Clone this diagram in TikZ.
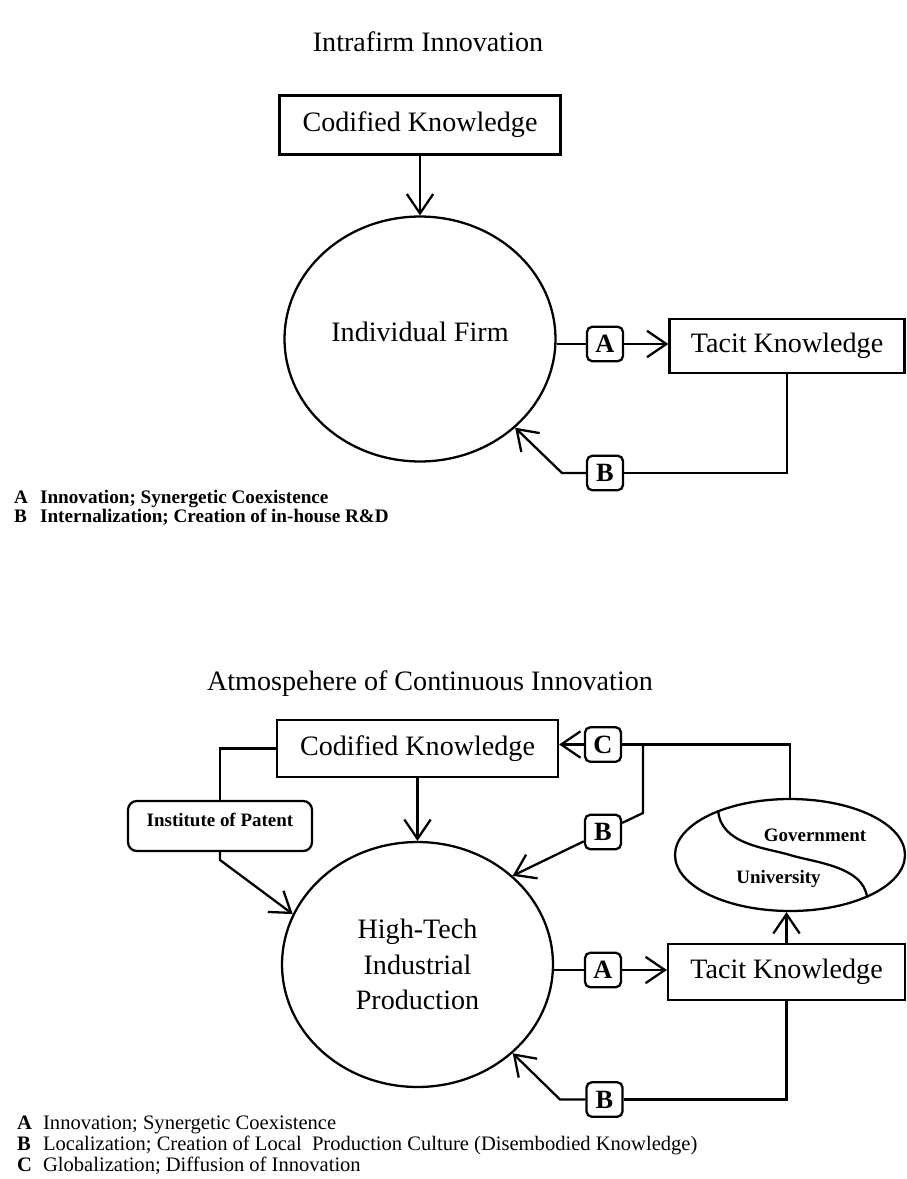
\documentclass[tikz,border=0pt]{standalone}
\usepackage{fontspec}
\setmainfont{Liberation Serif}
\usetikzlibrary{arrows.meta, shapes.geometric, positioning}

\begin{document}
\begin{tikzpicture}[
      x=0.02cm, y=-0.02cm, line width=1.3pt,
      >={Straight Barb[length=11pt,width=15pt,line width=1.3pt]},
      every node/.style={inner sep=0pt},
      heading/.style={font=\fontsize{16}{20}\selectfont},
      knowbox/.style={draw, rectangle, minimum height=1.18cm, font=\fontsize{16}{20}\selectfont},
      sphere/.style={draw, ellipse, minimum width=5.42cm, minimum height=4.9cm, align=center, font=\fontsize{16}{20}\selectfont},
      tag/.style={draw, rounded corners=3pt, minimum width=0.72cm, minimum height=0.69cm, font=\fontsize{15}{15}\bfseries\selectfont},
      minor/.style={font=\fontsize{10.8}{12}\bfseries\selectfont},
      legend/.style={anchor=base west, font=\fontsize{11.7}{13}\selectfont}
      ]
      \useasboundingbox (0,0) rectangle (906,1179);

      \node[heading, anchor=base]                      (title_1) at (428,52)  {Intrafirm Innovation};
      \node[knowbox, minimum width=5.62cm]             (ck_1)    at (420,125) {Codified Knowledge};
      \node[sphere, text height=0.4cm, text depth=0.32cm] (firm) at (420,339) {Individual Firm};
      \node[tag]                                       (a_1)     at (605,344) {A};
      \node[knowbox, minimum width=4.7cm, minimum height=1.08cm] (tk_1) at (787,346) {Tacit Knowledge};
      \node[tag]                                       (b_1)     at (605,473) {B};
      \coordinate (bend_1) at (562,473);

      \path[->] (ck_1) edge (firm);
      \draw (firm.east |- a_1) -- (a_1);
      \draw[->] (a_1) -- (a_1 -| tk_1.west);
      \draw (tk_1.south) |- (b_1);
      \draw[->] (b_1) -- (bend_1) -- (firm.-43);

      \node[legend, font=\fontsize{10.9}{13}\bfseries\selectfont] (key_a1) at (13,503) {\makebox[0.52cm][l]{A}Innovation; Synergetic Coexistence};
      \node[legend, font=\fontsize{10.9}{13}\bfseries\selectfont] (key_b1) at (13,522) {\makebox[0.52cm][l]{B}Internalization; Creation of in-house R\&D};

      \node[heading, anchor=base]                      (title_2) at (430,690) {Atmospehere of Continuous Innovation};
      \node[knowbox, minimum width=5.62cm, minimum height=1.14cm] (ck_2) at (417.5,748.5) {Codified Knowledge};
      \node[sphere]                                    (hitech)  at (417.5,964.5) {High-Tech\\Industrial\\Production};
      \node[minor, draw, rounded corners=5pt, minimum width=3.68cm, minimum height=1cm, text depth=0.24cm] (patent) at (220,826) {Institute of Patent};
      \node[tag]                                       (c_2)     at (603,744.5) {C};
      \node[tag]                                       (b_2)     at (603,832) {B};
      \node[tag]                                       (a_2)     at (603,970) {A};
      \node[tag]                                       (b_3)     at (604.5,1099.5) {B};
      \node[knowbox, minimum width=4.74cm, minimum height=1.12cm] (tk_2) at (786.5,972) {Tacit Knowledge};
      \node[draw, ellipse, minimum width=4.6cm, minimum height=2.24cm] (gov) at (790,855) {};
      \node[minor]                                     (gov_text) at (815,835) {Government};
      \node[minor]                                     (uni_text) at (778.5,879) {University};
      \coordinate (fork)   at (643,744.5);
      \coordinate (bend_3) at (643,813);
      \coordinate (bend_2) at (220,860);
      \coordinate (bend_4) at (560,1099.5);

      \draw (gov.148) .. controls (720,845) and (768,848) .. (gov.center)
                      .. controls (812,862) and (864,866) .. (gov.-29);

      \path[->] (ck_2) edge (hitech);
      \draw (ck_2.west) -| (patent.north);
      \draw[->] (patent) -- (bend_2) -- (hitech.158);
      \draw (gov.north) |- (c_2);
      \draw[->] (c_2) -- (ck_2.east |- c_2);
      \draw (fork) -- (bend_3) -- (b_2);
      \draw[->] (b_2) -- (hitech.43);
      \draw (hitech.east |- a_2) -- (a_2);
      \draw[->] (a_2) -- (a_2 -| tk_2.west);
      \draw[->] (tk_2.north) -- (tk_2.north |- gov.south);
      \draw (tk_2.south) |- (b_3);
      \draw[->] (b_3) -- (bend_4) -- (hitech.-43);

      \node[legend] (key_a2) at (16,1129) {\makebox[0.52cm][l]{\bfseries A}Innovation; Synergetic Coexistence};
      \node[legend] (key_b2) at (16,1150) {\makebox[0.52cm][l]{\bfseries B}Localization; Creation of Local~ Production Culture (Disembodied Knowledge)};
      \node[legend] (key_c2) at (16,1171) {\makebox[0.52cm][l]{\bfseries C}Globalization; Diffusion of Innovation};
    \end{tikzpicture}
\end{document}
